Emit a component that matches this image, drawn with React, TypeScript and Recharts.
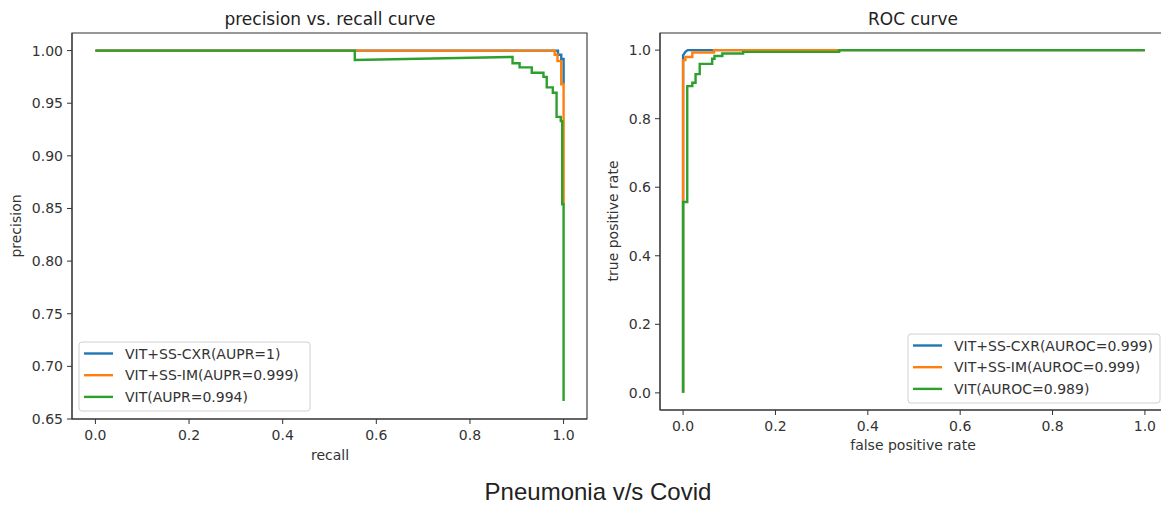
import React from 'react';
import { LineChart, Line, XAxis, YAxis, ReferenceArea } from 'recharts';

// ---------- Data: precision vs recall ----------
const prCxrRecall = [0, 0.988, 0.988, 0.995, 0.995, 1.0, 1.0];
const prCxrPrecision = [1.0, 1.0, 0.996, 0.996, 0.992, 0.992, 0.968];

const prImRecall = [0, 0.981, 0.981, 0.987, 0.987, 0.995, 0.995, 1.0, 1.0];
const prImPrecision = [1.0, 1.0, 0.996, 0.996, 0.99, 0.99, 0.968, 0.968, 0.854];

const prVitRecall = [0, 0.554, 0.554, 0.891, 0.891, 0.906, 0.906, 0.932, 0.932, 0.957, 0.957, 0.964, 0.964, 0.977, 0.977, 0.985, 0.985, 0.994, 0.994, 0.997, 0.997, 1.0, 1.0];
const prVitPrecision = [1.0, 1.0, 0.991, 0.994, 0.988, 0.988, 0.984, 0.984, 0.979, 0.979, 0.975, 0.975, 0.965, 0.965, 0.96, 0.96, 0.937, 0.937, 0.933, 0.933, 0.854, 0.854, 0.667];

// ---------- Data: ROC ----------
const rocCxrFpr = [0, 0, 0.005, 0.01, 1.0];
const rocCxrTpr = [0, 0.985, 0.995, 1.0, 1.0];

const rocImFpr = [0, 0, 0.005, 0.005, 0.02, 0.02, 0.067, 0.067, 1.0];
const rocImTpr = [0, 0.971, 0.971, 0.98, 0.98, 0.993, 0.993, 1.0, 1.0];

const rocVitFpr = [0, 0, 0.009, 0.009, 0.02, 0.02, 0.027, 0.027, 0.036, 0.036, 0.063, 0.063, 0.068, 0.068, 0.085, 0.085, 0.13, 0.13, 0.338, 0.338, 1.0];
const rocVitTpr = [0, 0.557, 0.557, 0.895, 0.895, 0.905, 0.905, 0.93, 0.93, 0.96, 0.96, 0.975, 0.975, 0.983, 0.983, 0.99, 0.99, 0.995, 0.995, 1.0, 1.0];

// ---------- Ticks & labels ----------
const unitTicks = [0, 0.2, 0.4, 0.6, 0.8, 1.0];
const precisionTicks = [0.65, 0.7, 0.75, 0.8, 0.85, 0.9, 0.95, 1.0];
const prLegend = ['VIT+SS-CXR(AUPR=1)', 'VIT+SS-IM(AUPR=0.999)', 'VIT(AUPR=0.994)'];
const rocLegend = ['VIT+SS-CXR(AUROC=0.999)', 'VIT+SS-IM(AUROC=0.999)', 'VIT(AUROC=0.989)'];
const colors = ['#1f77b4', '#ff7f0e', '#2ca02c'];

const zip = (xs: number[], ys: number[]) => xs.map((x, i) => ({ x, y: ys[i] }));

const FONT = "'DejaVu Sans', sans-serif";
const AX = '#333';
const LW = 2.4;
const tickStyle = { fill: '#333', fontSize: 14, fontFamily: FONT };

function Legend({ x, y, w, items }: { x: number; y: number; w: number; items: string[] }) {
  return (
    <g>
      <rect x={x} y={y} width={w} height={69} rx={3} fill="#fff" fillOpacity={0.85} stroke="#d0d0d0" />
      {items.map((t, i) => (
        <g key={t}>
          <line x1={x + 5} x2={x + 34} y1={y + 11.5 + i * 21.7} y2={y + 11.5 + i * 21.7} stroke={colors[i]} strokeWidth={LW} />
          <text x={x + 46} y={y + 16.5 + i * 21.7} fontFamily={FONT} fontSize={14} fill="#333">{t}</text>
        </g>
      ))}
    </g>
  );
}

export default function App() {
  const prSeries = [zip(prCxrRecall, prCxrPrecision), zip(prImRecall, prImPrecision), zip(prVitRecall, prVitPrecision)];
  const rocSeries = [zip(rocCxrFpr, rocCxrTpr), zip(rocImFpr, rocImTpr), zip(rocVitFpr, rocVitTpr)];
  return (
    <div style={{ position: 'absolute', left: 0, top: 0, width: 1161, height: 506, overflow: 'hidden', background: '#fff' }}>
      <div style={{ position: 'absolute', left: 0, top: 0 }}>
        <LineChart width={600} height={470} margin={{ top: 33, right: 13, left: 0, bottom: 21 }}>
          <XAxis dataKey="x" type="number" domain={[-0.05, 1.05]} ticks={unitTicks} interval={0} allowDataOverflow
            tickFormatter={(v: number) => v.toFixed(1)} tick={tickStyle} tickSize={5} tickMargin={6}
            axisLine={{ stroke: AX }} tickLine={{ stroke: AX }} height={30} />
          <YAxis dataKey="y" type="number" domain={[0.65, 1.0167]} ticks={precisionTicks} interval={0} allowDataOverflow
            tickFormatter={(v: number) => v.toFixed(2)} tick={tickStyle} tickSize={5} tickMargin={4}
            axisLine={{ stroke: AX }} tickLine={{ stroke: AX }} width={72} />
          <ReferenceArea x1={-0.05} x2={1.05} y1={0.65} y2={1.0167} fill="none" stroke={AX} strokeWidth={1.1} />
          {prSeries.map((d, i) => (
            <Line key={i} data={d} dataKey="y" type="linear" dot={false} activeDot={false} stroke={colors[i]} strokeWidth={LW} isAnimationActive={false} />
          ))}
        </LineChart>
      </div>
      <div style={{ position: 'absolute', left: 580, top: 0 }}>
        <LineChart width={600} height={470} margin={{ top: 33, right: 12, left: 0, bottom: 30 }}>
          <XAxis dataKey="x" type="number" domain={[-0.05, 1.05]} ticks={unitTicks} interval={0} allowDataOverflow
            tickFormatter={(v: number) => v.toFixed(1)} tick={tickStyle} tickSize={5} tickMargin={6}
            axisLine={{ stroke: AX }} tickLine={{ stroke: AX }} height={30} />
          <YAxis dataKey="y" type="number" domain={[-0.05, 1.05]} ticks={unitTicks} interval={0} allowDataOverflow
            tickFormatter={(v: number) => v.toFixed(1)} tick={tickStyle} tickSize={5} tickMargin={4}
            axisLine={{ stroke: AX }} tickLine={{ stroke: AX }} width={80} />
          <ReferenceArea x1={-0.05} x2={1.05} y1={-0.05} y2={1.05} fill="none" stroke={AX} strokeWidth={1.1} />
          {rocSeries.map((d, i) => (
            <Line key={i} data={d} dataKey="y" type="linear" dot={false} activeDot={false} stroke={colors[i]} strokeWidth={LW} isAnimationActive={false} />
          ))}
        </LineChart>
      </div>
      <svg width={1161} height={506} style={{ position: 'absolute', left: 0, top: 0, pointerEvents: 'none' }}>
        <text x={330} y={25} textAnchor="middle" fontFamily={FONT} fontSize={17} fill="#222">precision vs. recall curve</text>
        <text x={913} y={25} textAnchor="middle" fontFamily={FONT} fontSize={17} fill="#222">ROC curve</text>
        <text x={330} y={460} textAnchor="middle" fontFamily={FONT} fontSize={14} fill="#333">recall</text>
        <text x={913} y={450} textAnchor="middle" fontFamily={FONT} fontSize={14} fill="#333">false positive rate</text>
        <text transform="translate(21,226) rotate(-90)" textAnchor="middle" fontFamily={FONT} fontSize={14} fill="#333">precision</text>
        <text transform="translate(618,221) rotate(-90)" textAnchor="middle" fontFamily={FONT} fontSize={14} fill="#333">true positive rate</text>
        <text x={598} y={500} textAnchor="middle" fontFamily="'Liberation Sans', Arial, sans-serif" fontSize={24} fill="#222">Pneumonia v/s Covid</text>
        <Legend x={79} y={342} w={231} items={prLegend} />
        <Legend x={908} y={334} w={252} items={rocLegend} />
      </svg>
    </div>
  );
}
